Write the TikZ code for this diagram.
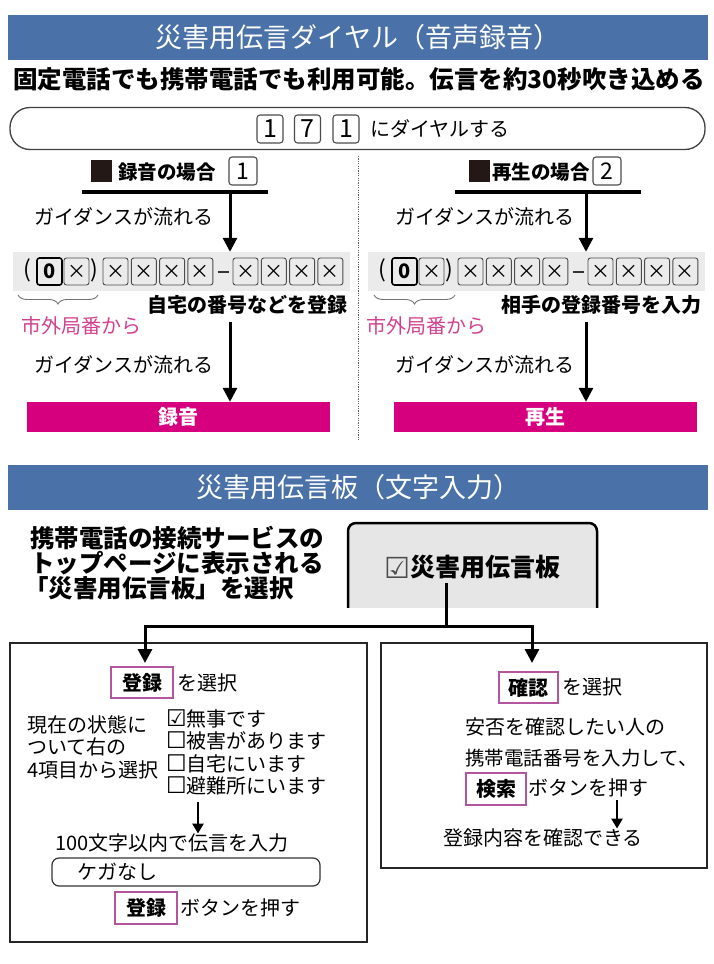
\documentclass[tikz,border=0pt]{standalone}
\usepackage{fontspec}
\setmainfont{Noto Sans CJK JP}
\newfontfamily\symfont{DejaVu Sans}
\usetikzlibrary{arrows.meta,decorations.pathreplacing}
\definecolor{bannerblue}{HTML}{4B72A8}
\definecolor{magbar}{HTML}{D6007F}
\definecolor{magtext}{HTML}{D2418F}
\definecolor{magframe}{HTML}{B3559F}
\definecolor{bandgray}{HTML}{EBEBEB}
\definecolor{boxgray}{HTML}{E6E6E6}
\definecolor{inkblack}{HTML}{231815}
\newcommand{\fsz}[1]{\fontsize{#1pt}{#1pt}\selectfont}
\newcommand{\chk}{{\symfont\fsz{23}☑}}
\newcommand{\unchk}{{\symfont\fsz{23}☐}}
\tikzset{
 banner/.style={fill=bannerblue, text=white, minimum width=700pt, minimum height=45pt, inner sep=0pt, font=\fsz{27}},
 txt/.style={inner sep=0pt, font=\fsz{20}},
 btxt/.style={inner sep=0pt, font=\fsz{20}\bfseries},
 ctxt/.style={inner sep=0pt, font=\fsz{20}, text height=15pt, text depth=3pt},
 bigkey/.style={draw=black!70, line width=1.1pt, rounded corners=3pt, minimum width=26pt, minimum height=28pt, inner sep=0pt, font=\fsz{25}},
 numkey/.style={draw=black!70, line width=0.9pt, rounded corners=2.5pt, minimum width=25pt, minimum height=27pt, inner sep=0pt, font=\fsz{19}},
 zerokey/.style={numkey, draw=black, line width=1.6pt, font=\fsz{20}\bfseries},
 band/.style={fill=bandgray, minimum width=337pt, minimum height=39pt, inner sep=0pt},
 magbarbox/.style={fill=magbar, text=white, minimum width=303pt, minimum height=30pt, inner sep=0pt, font=\fsz{20}\bfseries},
 magframebox/.style={draw=magframe, line width=1.2pt, inner sep=0pt, minimum height=31pt, font=\fsz{20}\bfseries},
 bigarrow/.style={line width=3pt, -{Triangle[width=14pt,length=14pt]}},
 smallarrow/.style={line width=2.5pt, -{Triangle[width=11pt,length=10pt]}},
 headline/.style={line width=3.5pt},
 frame/.style={draw=black!85, line width=1.3pt, inner sep=0pt},
 sqmark/.style={fill=inkblack, minimum width=21pt, minimum height=22pt, inner sep=0pt},
 paren/.style={inner sep=0pt, font=\fsz{23}},
 dashmark/.style={inner sep=0pt},
 bracebr/.style={decorate, decoration={brace, amplitude=9pt}, black!55, line width=0.9pt},
}
\begin{document}
\begin{tikzpicture}[x=1pt,y=-1pt]
\useasboundingbox[fill=white] (0,0) rectangle (713,964);

% ---------- section 1 ----------
\node[banner] (ban1) at (358,37.5) {災害用伝言ダイヤル（音声録音）};
\node[btxt, font=\fsz{24.5}\bfseries] (sub) at (359,79) {固定電話でも携帯電話でも利用可能。伝言を約30秒吹き込める};

\node[draw=black!75, line width=1.3pt, rounded corners=20pt, minimum width=695pt, minimum height=42pt, inner sep=0pt] (pill) at (357.5,128.5) {};
\node[bigkey] (k1) at (270,129) {1};
\node[bigkey] (k7) at (307.5,129) {7};
\node[bigkey] (k1b) at (346,129) {1};
\node[txt, anchor=west] (dial) at (370,129) {にダイヤルする};

\coordinate (dv1) at (358,156);
\coordinate (dv2) at (358,440);
\draw[black!60, line width=0.8pt, dash pattern=on 1.2pt off 1.2pt] (dv1) -- (dv2);

% left heading
\node[sqmark] (sqL) at (101,171) {};
\node[btxt, anchor=west, font=\fsz{19.5}\bfseries] (recL) at (118,172) {録音の場合};
\node[bigkey, minimum width=28pt, font=\fsz{23}] (kL) at (243,171) {1};
\coordinate (hlLa) at (82,192);
\coordinate (hlLb) at (268,192);
\draw[headline] (hlLa) -- (hlLb);
\coordinate (arL) at (230,192);

% right heading
\node[sqmark] (sqR) at (479.5,171) {};
\node[btxt, anchor=west, font=\fsz{19.5}\bfseries] (recR) at (492,172) {再生の場合};
\node[bigkey, minimum width=28pt, font=\fsz{23}] (kR) at (607,171) {2};
\coordinate (hlRa) at (455,192);
\coordinate (hlRb) at (641,192);
\draw[headline] (hlRa) -- (hlRb);
\coordinate (arR) at (586,192);

\node[txt, anchor=west] (guL1) at (34,217) {ガイダンスが流れる};
\node[txt, anchor=west] (guR1) at (395,217) {ガイダンスが流れる};

% number bands
\node[band] (bandL) at (181.5,271.5) {};
\node[band] (bandR) at (536.5,271.5) {};
\draw[bigarrow] (arL) -- (arL |- bandL.north);
\draw[bigarrow] (arR) -- (arR |- bandR.north);

% left number row
\node[paren] (pLo) at (27.5,270) {(};
\node[zerokey] (zL) at (49.5,271.5) {0};
\node[numkey] (xL0) at (76.5,271.5) {×};
\node[paren] (pLc) at (94.5,270) {)};
\foreach \xx [count=\i] in {115.5,143.8,172.1,200.4}
  \node[numkey] (aL\i) at (\xx,271.5) {×};
\node[dashmark] (dL) at (223,272) {\color{black!80}\rule{11pt}{1.3pt}};
\foreach \xx [count=\i] in {245.5,273.8,302.1,330.4}
  \node[numkey] (bL\i) at (\xx,271.5) {×};

% right number row
\node[paren] (pRo) at (382.5,270) {(};
\node[zerokey] (zR) at (404.5,271.5) {0};
\node[numkey] (xR0) at (431.5,271.5) {×};
\node[paren] (pRc) at (449.5,270) {)};
\foreach \xx [count=\i] in {470.5,498.8,527.1,555.4}
  \node[numkey] (aR\i) at (\xx,271.5) {×};
\node[dashmark] (dR) at (578,272) {\color{black!80}\rule{11pt}{1.3pt}};
\foreach \xx [count=\i] in {600.5,628.8,657.1,685.4}
  \node[numkey] (bR\i) at (\xx,271.5) {×};

% braces
\coordinate (brL1) at (98,295);
\coordinate (brL2) at (18,295);
\draw[bracebr] (brL1) -- (brL2);
\coordinate (brR1) at (455,295);
\coordinate (brR2) at (374,295);
\draw[bracebr] (brR1) -- (brR2);

\node[txt, anchor=west, text=magtext] (areaL) at (21,326) {市外局番から};
\node[txt, anchor=west, text=magtext] (areaR) at (366,326) {市外局番から};
\node[btxt, anchor=east] (regL) at (348,305) {自宅の番号などを登録};
\node[btxt, anchor=east] (regR) at (702,305) {相手の登録番号を入力};

\node[txt, anchor=west] (guL2) at (34,365) {ガイダンスが流れる};
\node[txt, anchor=west] (guR2) at (395,365) {ガイダンスが流れる};

\node[magbarbox] (rec) at (178.5,417) {録音};
\node[magbarbox] (play) at (545.5,417) {再生};
\coordinate (arL2) at (230,322);
\coordinate (arR2) at (586,322);
\draw[bigarrow] (arL2) -- (arL2 |- rec.north);
\draw[bigarrow] (arR2) -- (arR2 |- play.north);

% ---------- section 2 ----------
\node[banner] (ban2) at (358,487.5) {災害用伝言板（文字入力）};

\node[btxt, anchor=west, font=\fsz{24.5}\bfseries] (t1) at (30,538) {携帯電話の接続サービスの};
\node[btxt, anchor=west, font=\fsz{24.5}\bfseries] (t2) at (30,563) {トップページに表示される};
\node[btxt, anchor=west, font=\fsz{24.5}\bfseries] (t3) at (24,588) {「災害用伝言板」を選択};

\begin{scope}
  \clip (338,513) rectangle (607,607);
  \draw[fill=boxgray, line width=2.5pt, rounded corners=8pt] (348,523) rectangle (597,630);
\end{scope}
\node[inner sep=0pt, font=\fsz{25}\bfseries] (gbtxt) at (472,567) {{\symfont\mdseries\fsz{29}\raisebox{-2pt}{\textcolor{black!70}{☑}}}災害用伝言板};

% boxes
\node[frame, minimum width=357pt, minimum height=299pt] (boxL) at (188.5,792.5) {};
\node[frame, minimum width=326pt, minimum height=225pt] (boxR) at (544,755.5) {};

\coordinate (vt) at (446,583);
\coordinate (jn) at (446,626);
\coordinate (jl) at (145,626);
\coordinate (jr) at (532,626);
\coordinate (aL) at (145,663);
\coordinate (aR) at (532,663);
\draw[line width=3pt] (vt) -- (jn);
\draw[bigarrow] (jn) -- (jl) -- (aL);
\draw[bigarrow] (jn) -- (jr) -- (aR);

% left box contents
\node[magframebox, minimum width=62pt] (reg1) at (142,682.5) {登録};
\node[txt, anchor=west] (sel1) at (177,683) {を選択};
\node[ctxt, anchor=west] (s1) at (27,726) {現在の状態に};
\node[ctxt, anchor=west] (s2) at (27,748.5) {ついて右の};
\node[ctxt, anchor=west] (s3) at (27,771) {4項目から選択};
\node[ctxt, anchor=west] (c1) at (166,720) {\chk 無事です};
\node[ctxt, anchor=west] (c2) at (166,742.5) {\unchk 被害があります};
\node[ctxt, anchor=west] (c3) at (166,765) {\unchk 自宅にいます};
\node[ctxt, anchor=west] (c4) at (166,787.5) {\unchk 避難所にいます};
\node[txt, anchor=west] (m1) at (55,843) {100文字以内で伝言を入力};
\coordinate (sa1) at (198,802);
\draw[smallarrow] (sa1) -- (sa1 |- m1.north);
\node[draw=black!80, line width=1.2pt, rounded corners=7pt, minimum width=268pt, minimum height=28pt, inner sep=0pt] (inp) at (186,872) {};
\node[txt, anchor=west] (inptxt) at (77,872) {ケガなし};
\node[magframebox, minimum width=62pt, minimum height=32pt] (reg2) at (146,908) {登録};
\node[txt, anchor=west] (push1) at (180,908) {ボタンを押す};

% right box contents
\node[magframebox, minimum width=59pt] (conf) at (528.5,687.5) {確認};
\node[txt, anchor=west] (sel2) at (562,687) {を選択};
\node[txt, anchor=west] (r1) at (465,727) {安否を確認したい人の};
\node[txt, anchor=west, font=\fsz{19.5}] (r2) at (465,758) {携帯電話番号を入力して、};
\node[magframebox, minimum width=60pt, minimum height=32pt] (srch) at (496,789) {検索};
\node[txt, anchor=west] (push2) at (528,788) {ボタンを押す};
\node[txt, anchor=west] (r3) at (443,838) {登録内容を確認できる};
\coordinate (sa2) at (617,800);
\draw[smallarrow] (sa2) -- (sa2 |- r3.north);
\end{tikzpicture}
\end{document}
